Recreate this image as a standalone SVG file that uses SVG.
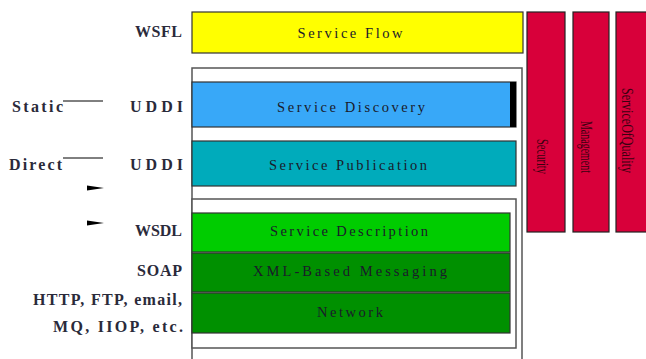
<svg xmlns="http://www.w3.org/2000/svg" width="646" height="359" viewBox="0 0 646 359">
<style>
.box{stroke:#333;stroke-width:1.2}
.frame{fill:#fff;stroke:#555;stroke-width:1.5}
.t{font-family:"Liberation Serif",serif;font-size:14.5px;fill:#1a1a2a;text-anchor:middle}
.lbl{font-family:"Liberation Serif",serif;font-size:16px;font-weight:bold;fill:#2a2a3a}
.r{text-anchor:end}
.col{fill:#d8003a;stroke:#222;stroke-width:1.2}
.ct{font-family:"Liberation Serif",serif;font-size:17px;fill:#3a0010;text-anchor:end}
.ln{stroke:#000;stroke-width:1}
</style>
<rect width="646" height="359" fill="#fff"/>
<g id="frame-outer"><rect class="frame" x="192" y="68" width="330" height="300"/></g>
<g id="frame-inner"><rect class="frame" x="192" y="199" width="324" height="149"/></g>
<g id="service-flow"><rect class="box" x="192" y="12" width="331" height="41" fill="#ffff00"/><text class="t" x="350" y="38" textLength="105" lengthAdjust="spacing">Service Flow</text></g>
<g id="service-discovery"><rect class="box" x="192" y="82" width="324" height="45" fill="#38a8f8"/><rect x="510" y="82" width="6" height="45" fill="#000"/><text class="t" x="351" y="112" textLength="148" lengthAdjust="spacing">Service Discovery</text></g>
<g id="service-publication"><rect class="box" x="192" y="141" width="324" height="45" fill="#00abbb"/><text class="t" x="348" y="170" textLength="158" lengthAdjust="spacing">Service Publication</text></g>
<g id="service-description"><rect class="box" x="192" y="213" width="318" height="39" fill="#00cc00"/><text class="t" x="349" y="236" textLength="158" lengthAdjust="spacing">Service Description</text></g>
<g id="xml-messaging"><rect class="box" x="192" y="253" width="318" height="39" fill="#009000"/><text class="t" x="350" y="276" textLength="194" lengthAdjust="spacing">XML-Based Messaging</text></g>
<g id="network"><rect class="box" x="192" y="293" width="318" height="40" fill="#009000"/><text class="t" x="350" y="317" textLength="66" lengthAdjust="spacing">Network</text></g>
<g id="security"><rect class="col" x="527" y="12" width="38" height="220"/><text class="ct" transform="translate(537,174) rotate(90)" textLength="35" lengthAdjust="spacingAndGlyphs">Security</text></g>
<g id="management"><rect class="col" x="573" y="12" width="36" height="220"/><text class="ct" transform="translate(581,173) rotate(90)" textLength="52" lengthAdjust="spacingAndGlyphs">Management</text></g>
<g id="service-quality"><rect class="col" x="616" y="12" width="32" height="220"/><text class="ct" transform="translate(622,173) rotate(90)" textLength="85" lengthAdjust="spacingAndGlyphs">ServiceOfQuality</text></g>
<g id="labels">
<text class="lbl r" x="182" y="37" textLength="47" lengthAdjust="spacing">WSFL</text>
<text class="lbl r" x="183" y="112" textLength="53" lengthAdjust="spacing">UDDI</text>
<text class="lbl" x="12" y="112" textLength="51" lengthAdjust="spacing">Static</text>
<text class="lbl" x="9" y="170" textLength="53" lengthAdjust="spacing">Direct</text>
<text class="lbl r" x="183" y="170" textLength="53" lengthAdjust="spacing">UDDI</text>
<text class="lbl r" x="182" y="236" textLength="47" lengthAdjust="spacing">WSDL</text>
<text class="lbl r" x="182" y="276" textLength="45" lengthAdjust="spacing">SOAP</text>
<text class="lbl r" x="182" y="305" textLength="149" lengthAdjust="spacing">HTTP, FTP, email,</text>
<text class="lbl r" x="183" y="332" textLength="130" lengthAdjust="spacing">MQ, IIOP, etc.</text>
</g>
<g id="connectors">
<line class="ln" x1="63" y1="101" x2="103" y2="101"/>
<line class="ln" x1="63" y1="158" x2="103" y2="158"/>
<polygon points="87,185.5 104,188 87,190.5" fill="#000"/>
<polygon points="87,220.5 104,223 87,225.5" fill="#000"/>
</g>
</svg>
